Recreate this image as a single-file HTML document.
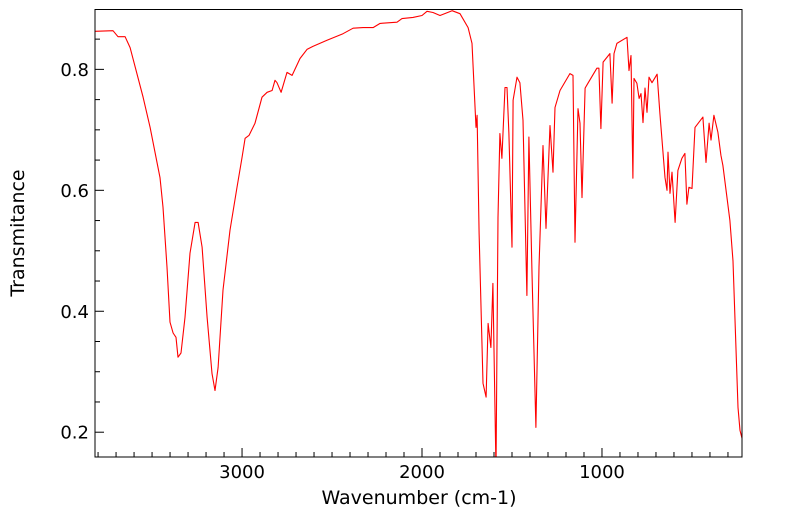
<!DOCTYPE html>
<html><head><meta charset="utf-8"><style>
html,body{margin:0;padding:0;background:#fff;}
svg{display:block;font-family:"DejaVu Sans","Liberation Sans",sans-serif;}
</style></head><body>
<svg id="chart" width="799" height="516"></svg>
<script>
const wavenumbers=[3817,3717,3689,3650,3622,3550,3511,3456,3439,3417,3400,3383,3367,3356,3339,3317,3289,3261,3244,3222,3194,3167,3150,3133,3106,3067,3028,3000,2983,2961,2928,2889,2861,2833,2817,2806,2783,2750,2722,2678,2639,2606,2528,2439,2383,2328,2272,2233,2139,2111,2050,2000,1972,1939,1900,1833,1789,1744,1722,1700,1694,1683,1661,1644,1633,1617,1606,1589,1578,1567,1556,1539,1528,1517,1500,1494,1472,1456,1439,1417,1406,1389,1367,1350,1328,1311,1289,1272,1261,1233,1178,1161,1150,1133,1122,1111,1094,1078,1028,1017,1006,994,956,944,933,917,861,850,839,828,822,806,794,783,772,761,750,739,722,694,678,650,639,633,622,611,594,578,556,539,528,517,500,483,439,422,405,394,378,356,339,328,289,272,244,233,222];
const transmittance=[.863,.864,.854,.854,.836,.754,.704,.621,.572,.473,.382,.364,.357,.324,.331,.390,.496,.547,.547,.506,.390,.297,.269,.307,.435,.534,.605,.654,.686,.691,.711,.754,.762,.765,.782,.778,.762,.795,.790,.818,.833,.838,.848,.859,.868,.869,.869,.876,.878,.884,.886,.889,.896,.894,.889,.897,.892,.869,.843,.704,.724,.529,.281,.258,.380,.340,.446,.137,.555,.694,.653,.770,.770,.694,.506,.749,.787,.778,.716,.426,.688,.463,.208,.473,.674,.537,.707,.630,.737,.765,.793,.790,.514,.735,.711,.588,.769,.777,.802,.802,.702,.812,.826,.744,.826,.843,.853,.798,.823,.620,.785,.777,.752,.760,.712,.769,.729,.787,.778,.792,.727,.621,.600,.663,.595,.630,.547,.633,.653,.661,.577,.605,.603,.704,.721,.646,.711,.683,.724,.696,.658,.641,.550,.483,.241,.203,.190];
const xTicks=[3000,2000,1000];
const xTickLabels=["3000","2000","1000"];
const yTicks=[0.2,0.4,0.6,0.8];
const yTickLabels=["0.2","0.4","0.6","0.8"];
const X0=95,X1=742,Y0=9.5,Y1=457;
const WN_LEFT=3817,WN_RIGHT=222,T_TOP=0.899,T_BOT=0.159;
const xs=w=>X0+(WN_LEFT-w)/(WN_LEFT-WN_RIGHT)*(X1-X0);
const ys=t=>Y0+(T_TOP-t)/(T_TOP-T_BOT)*(Y1-Y0);
const NS="http://www.w3.org/2000/svg";
const svg=document.getElementById('chart');
function mk(tag,attrs,parent){const e=document.createElementNS(NS,tag);for(const k in attrs)e.setAttribute(k,attrs[k]);(parent||svg).appendChild(e);return e;}
const defs=mk('defs',{});
const cp=mk('clipPath',{id:'clip'},defs);
mk('rect',{x:X0,y:Y0,width:X1-X0,height:Y1-Y0},cp);
for(let w=3800;w>=300;w-=100){
  const major=w%1000===0;
  const t=mk('line',{x1:xs(w),x2:xs(w),y1:Y1,y2:Y1-(major?9:5),stroke:'#000','stroke-width':1});
  
  
}
for(let v=0.20;v<=0.8801;v+=0.05){
  const major=Math.abs(Math.round(v*10)-v*10)<1e-6 && Math.round(v*10)%2===0;
  const t=mk('line',{x1:X0,x2:X0+(major?9:5),y1:ys(v),y2:ys(v),stroke:'#000','stroke-width':1});
  
  
}
xTicks.forEach((w,i)=>{
  const t=mk('text',{x:xs(w),y:478,'font-size':18,'text-anchor':'middle',fill:'#000'});
  t.textContent=xTickLabels[i];
  
  
});
yTicks.forEach((v,i)=>{
  const t=mk('text',{x:89,y:ys(v)+6.5,'font-size':18,'text-anchor':'end',fill:'#000'});
  t.textContent=yTickLabels[i];
  
  
});
const d=wavenumbers.map((w,i)=>(i?'L':'M')+xs(w).toFixed(1)+','+ys(transmittance[i]).toFixed(1)).join('');
const p=mk('path',{d:d,fill:'none',stroke:'#ff0000','stroke-width':1.1,'clip-path':'url(#clip)','stroke-linejoin':'round'});


const fr=mk('rect',{x:X0,y:Y0,width:X1-X0,height:Y1-Y0,fill:'none',stroke:'#000','stroke-width':1});


const xl=mk('text',{x:419,y:504,'font-size':19,'text-anchor':'middle',fill:'#000'});
xl.textContent='Wavenumber (cm-1)';


const yl=mk('text',{x:0,y:0,'font-size':19,'text-anchor':'middle',fill:'#000',transform:'translate(24,233) rotate(-90)'});
yl.textContent='Transmitance';


</script>
</body></html>
